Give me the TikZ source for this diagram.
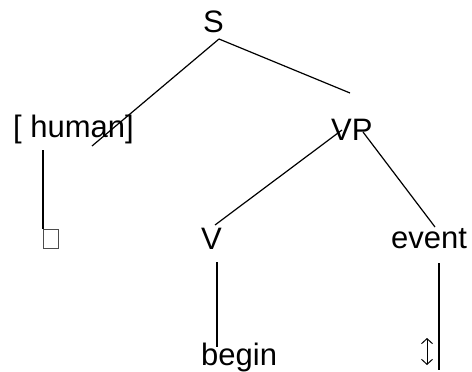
\documentclass[tikz,border=0pt]{standalone}
\usepackage{fontspec}
\setmainfont{Liberation Sans}
\usetikzlibrary{arrows.meta}
\tikzset{
  lbl/.style={inner sep=0pt, anchor=base west, font=\fontsize{31}{37}\selectfont},
  branch/.style={line width=1.2pt, black},
}
\begin{document}
\begin{tikzpicture}[x=1pt,y=-1pt]
\useasboundingbox (0,0) rectangle (472,372);
% labels
\node[lbl] (S) at (203,32) {S};
\node[lbl] (human) at (13,137) {[ human]};
\node[lbl] (VP) at (331,140) {VP};
\node[lbl] (V) at (201,249) {V};
\node[lbl] (event) at (391,248) {event};
\node[lbl] (begin) at (201,365) {begin};
% connector end points
\coordinate (s0) at (219,39);
\coordinate (h0) at (92,146);
\coordinate (vp0) at (350,93);
\coordinate (vpl) at (342,130);
\coordinate (vl) at (215,225);
\coordinate (vpr) at (363,132);
\coordinate (ev) at (435,227);
\coordinate (ht) at (43,150);
\coordinate (hb) at (43,229);
\coordinate (vt) at (217,262);
\coordinate (vb) at (217,347);
\coordinate (et) at (439,263);
\coordinate (eb) at (439,370);
% branches
\draw[branch] (s0) -- (h0);
\draw[branch] (s0) -- (vp0);
\draw[branch] (vpl) -- (vl);
\draw[branch] (vpr) -- (ev);
\draw[branch] (ht) -- (hb);
\draw[branch] (vt) -- (vb);
\draw[branch] (et) -- (eb);
% empty box
\node[draw=black!70, line width=0.7pt, minimum width=15pt, minimum height=19pt, inner sep=0pt, anchor=north west] (box) at (43,229) {};
% double arrow
\coordinate (at) at (427,338);
\coordinate (ab) at (427,365);
\draw[line width=1pt, {Straight Barb[length=5pt,width=11pt]}-{Straight Barb[length=5pt,width=11pt]}] (at) -- (ab);
\end{tikzpicture}
\end{document}
